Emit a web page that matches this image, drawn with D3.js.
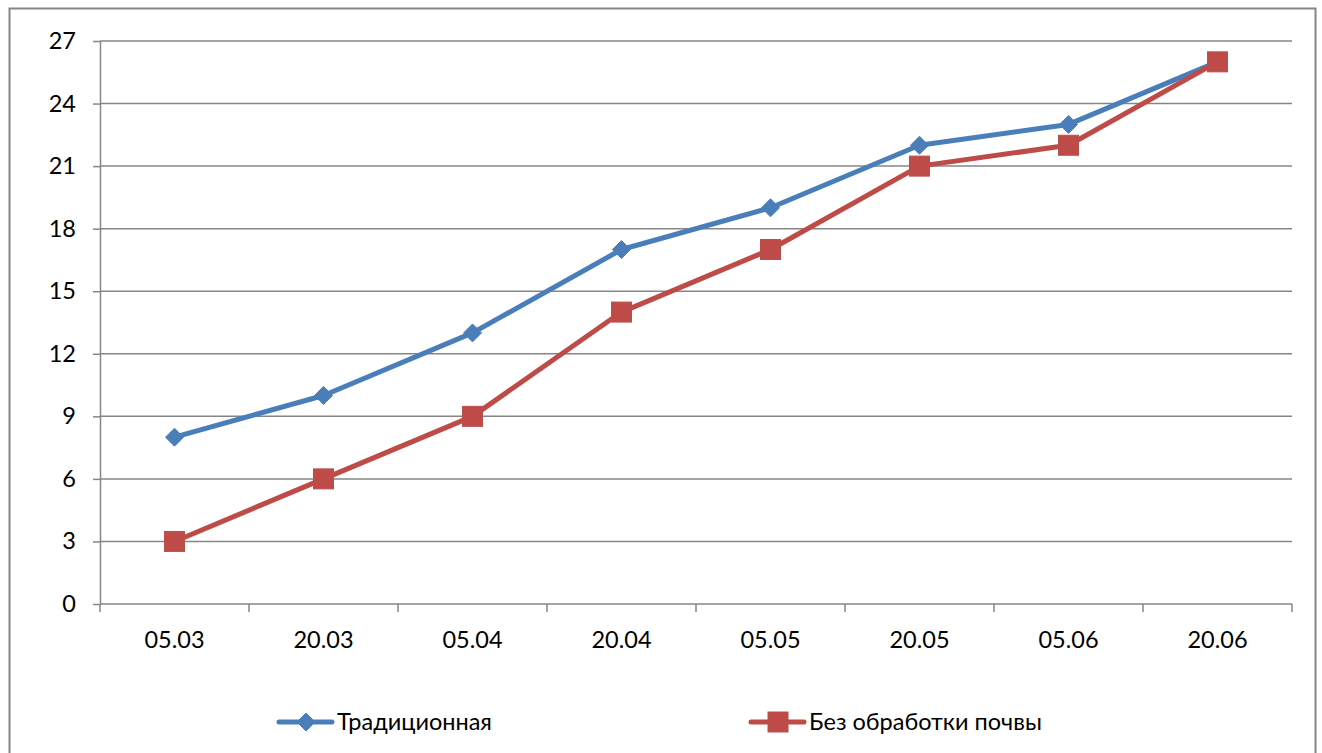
<!DOCTYPE html>
<html>
<head>
<meta charset="utf-8">
<script src="https://cdn.jsdelivr.net/npm/d3@7"></script>
<style>
  html, body { margin: 0; padding: 0; background: #fff; }
  svg text { font-family: Lato, "Open Sans", "Liberation Sans", sans-serif; fill: #000; }
</style>
</head>
<body>
<svg id="chart" width="1322" height="753"></svg>
<script>
// Dates of observation
const categories = ["05.03", "20.03", "05.04", "20.04", "05.05", "20.05", "05.06", "20.06"];
// Traditional tillage
const traditional = [8, 10, 13, 17, 19, 22, 23, 26];
// No tillage
const noTillage = [3, 6, 9, 14, 17, 21, 22, 26];
const yTicks = [0, 3, 6, 9, 12, 15, 18, 21, 24, 27];
const seriesNames = ["Традиционная", "Без обработки почвы"];

const svg = d3.select("#chart");
const plot = { left: 100, right: 1292, top: 41, bottom: 604 };
const FS = 23.5;

// Outer frame
svg.append("rect")
  .attr("x", 9.5).attr("y", 8.5)
  .attr("width", 1306).attr("height", 760)
  .attr("fill", "#fff").attr("stroke", "#868686").attr("stroke-width", 2);

const x = d3.scaleBand().domain(categories).range([plot.left, plot.right]);
const y = d3.scaleLinear().domain([0, 27]).range([plot.bottom, plot.top]);

// Horizontal gridlines
svg.append("g").selectAll("line").data(yTicks.filter(d => d > 0)).join("line")
  .attr("x1", plot.left).attr("x2", plot.right)
  .attr("y1", d => y(d)).attr("y2", d => y(d))
  .attr("stroke", "#868686").attr("stroke-width", 1.5);

// Y axis
const yAxis = svg.append("g").attr("transform", `translate(${plot.left},0)`)
  .call(d3.axisLeft(y).tickValues(yTicks).tickSize(7).tickSizeOuter(0).tickPadding(17));
yAxis.select(".domain").attr("stroke", "#868686").attr("stroke-width", 1.5);
yAxis.selectAll(".tick line").attr("stroke", "#868686").attr("stroke-width", 1.5);
yAxis.selectAll("text").attr("font-size", FS).style("font-family", "Lato, 'Open Sans', sans-serif");

// X axis with ticks at band boundaries
const xAxisG = svg.append("g").attr("transform", `translate(0,${plot.bottom})`);
xAxisG.append("line")
  .attr("x1", plot.left).attr("x2", plot.right)
  .attr("stroke", "#868686").attr("stroke-width", 1.5);
const bounds = categories.map(c => x(c)).concat([x(categories[categories.length - 1]) + x.bandwidth()]);
xAxisG.selectAll("line.tk").data(bounds).join("line").attr("class", "tk")
  .attr("x1", d => d).attr("x2", d => d).attr("y1", 0).attr("y2", 8)
  .attr("stroke", "#868686").attr("stroke-width", 1.5);
xAxisG.selectAll("text").data(categories).join("text")
  .attr("x", d => x(d) + x.bandwidth() / 2).attr("y", 44)
  .attr("text-anchor", "middle").attr("font-size", FS).text(d => d);

const cx = d => x(d) + x.bandwidth() / 2;
const line = d3.line().x(d => cx(d.c)).y(d => y(d.v));

const blue = "#4A7EBB", red = "#BE4B48";

function series(values, color) {
  const pts = categories.map((c, i) => ({ c, v: values[i] }));
  svg.append("path").datum(pts).attr("d", line)
    .attr("fill", "none").attr("stroke", color).attr("stroke-width", 5)
    .attr("stroke-linejoin", "round").attr("stroke-linecap", "round");
  return pts;
}

const ptsB = series(traditional, blue);
const ptsR = series(noTillage, red);

const diamond = (g, px, py) => g.append("path")
  .attr("d", `M${px},${py - 9}L${px + 9},${py}L${px},${py + 9}L${px - 9},${py}Z`)
  .attr("fill", blue).attr("stroke", blue).attr("stroke-width", 1).attr("stroke-linejoin", "round");
const square = (g, px, py) => g.append("rect")
  .attr("x", px - 10).attr("y", py - 10).attr("width", 20).attr("height", 20)
  .attr("fill", red).attr("stroke", "#B9504C").attr("stroke-width", 1);

const mk = svg.append("g");
ptsB.forEach(p => diamond(mk, cx(p.c), y(p.v)));
ptsR.forEach(p => square(mk, cx(p.c), y(p.v)));

// Legend
const lg = svg.append("g");
const legendItems = [
  { name: seriesNames[0], color: blue, x0: 279, draw: diamond },
  { name: seriesNames[1], color: red, x0: 751, draw: square }
];
legendItems.forEach(it => {
  const ly = 722;
  lg.append("line").attr("x1", it.x0).attr("x2", it.x0 + 53).attr("y1", ly).attr("y2", ly)
    .attr("stroke", it.color).attr("stroke-width", 5).attr("stroke-linecap", "round");
  it.draw(lg, it.x0 + 27, ly);
  lg.append("text").attr("x", it.x0 + 58).attr("y", ly + 8)
    .attr("font-size", FS).text(it.name);
});
</script>
</body>
</html>
